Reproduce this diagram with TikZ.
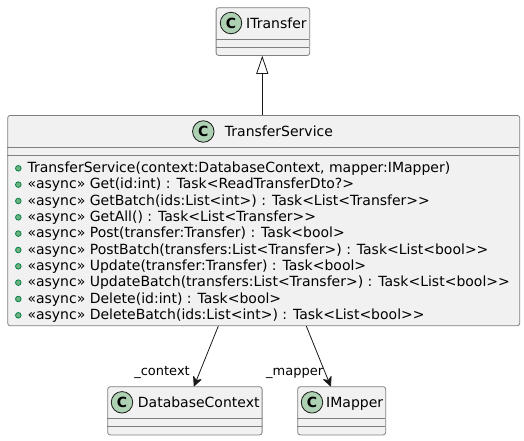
\documentclass[tikz,border=0pt]{standalone}
\usepackage{fontspec}
\newfontfamily\plainfont{DejaVu Sans}
\usetikzlibrary{arrows.meta}
\definecolor{boxfill}{HTML}{F1F1F1}
\definecolor{boxline}{HTML}{7F7F7F}
\definecolor{spotfill}{HTML}{ADD1B2}
\definecolor{pubfill}{HTML}{6FB37F}
\definecolor{publine}{HTML}{038048}
\definecolor{ink}{HTML}{181818}
\tikzset{x=1pt,y=-1pt,
  classbox/.style={draw=boxline,fill=boxfill,line width=0.8pt,rounded corners=2.5pt,inner sep=0pt,anchor=north west},
  spot/.style={circle,draw=ink,fill=spotfill,line width=0.8pt,minimum size=21.5pt,inner sep=0pt,font=\plainfont\fontsize{14}{14}\selectfont\bfseries},
  cname/.style={anchor=base west,inner sep=0pt,text=black,font=\plainfont\fontsize{14}{16}\selectfont},
  member/.style={anchor=base west,inner sep=0pt,text=black,font=\plainfont\fontsize{14}{16}\selectfont},
  pubdot/.style={circle,draw=publine,fill=pubfill,line width=0.8pt,minimum size=5.6pt,inner sep=0pt},
  divider/.style={draw=boxline,line width=0.8pt},
  link/.style={draw=ink,line width=0.8pt},
  openhead/.style={-{Stealth[inset=3.2pt,length=10.5pt,width=10pt,round]}},
  inherit/.style={-{Triangle[open,length=18pt,width=12pt,fill=white]}},
  endlabel/.style={anchor=base east,inner sep=0pt,text=black,font=\plainfont\fontsize{13}{15}\selectfont},
}
\newcommand{\classframe}[5]{% name, left, top, right, bottom
  \node[classbox,minimum width=#4pt-#2pt,minimum height=#5pt-#3pt] (#1) at (#2,#3) {};
  \draw[divider] (#2,#3+32) -- (#4,#3+32);
  \draw[divider] (#2,#3+40) -- (#4,#3+40);
}
\newcommand{\memberline}[3]{% name, baseline, text
  \node[pubdot] (dot#1) at (18.3,#2-4) {};
  \node[member] (mem#1) at (27.3,#2) {#3};
}
\begin{document}
\begin{tikzpicture}
\useasboundingbox (0,0) rectangle (524,440);
\classframe{it}{215.7}{7.3}{309.3}{55}
\node[spot] (its) at (231,23) {C};
\node[cname] (itn) at (246,28) {ITransfer};
\classframe{ts}{7.3}{115}{519.3}{325.3}
\node[spot] (tss) at (203.3,131.5) {C};
\node[cname] (tsn) at (224.7,136.2) {TransferService};
\memberline{a}{172.3}{TransferService(context:DatabaseContext, mapper:IMapper)}
\memberline{b}{188.6}{«async» Get(id:int) : Task<ReadTransferDto?>}
\memberline{c}{205}{«async» GetBatch(ids:List<int>) : Task<List<Transfer>>}
\memberline{d}{221.3}{«async» GetAll() : Task<List<Transfer>>}
\memberline{e}{237.6}{«async» Post(transfer:Transfer) : Task<bool>}
\memberline{f}{254}{«async» PostBatch(transfers:List<Transfer>) : Task<List<bool>>}
\memberline{g}{270.3}{«async» Update(transfer:Transfer) : Task<bool>}
\memberline{h}{286.6}{«async» UpdateBatch(transfers:List<Transfer>) : Task<List<bool>>}
\memberline{i}{303}{«async» Delete(id:int) : Task<bool>}
\memberline{j}{319.3}{«async» DeleteBatch(ids:List<int>) : Task<List<bool>>}
\classframe{dc}{107.3}{386.3}{261.7}{434.5}
\node[spot] (dcs) at (122,402.3) {C};
\node[cname] (dcn) at (137.7,407.4) {DatabaseContext};
\classframe{im}{297.3}{386.3}{385.3}{434.5}
\node[spot] (ims) at (312,402.3) {C};
\node[cname] (imn) at (326,407.4) {IMapper};
\coordinate (tsinh) at ([xshift=255pt]ts.north west);
\coordinate (itinh) at ([xshift=46.6pt]it.south west);
\coordinate (tsctx) at ([xshift=211pt]ts.south west);
\coordinate (dcctx) at ([xshift=86.7pt]dc.north west);
\coordinate (tsmap) at ([xshift=299pt]ts.south west);
\coordinate (immap) at ([xshift=33.4pt]im.north west);
\draw[link,inherit] (tsinh) -- (itinh);
\draw[link,openhead] (tsctx) -- (dcctx);
\draw[link,openhead] (tsmap) -- (immap);
\node[endlabel] (ctxl) at (190,375) {\_context};
\node[endlabel] (mapl) at (323.3,375) {\_mapper};
\end{tikzpicture}
\end{document}
